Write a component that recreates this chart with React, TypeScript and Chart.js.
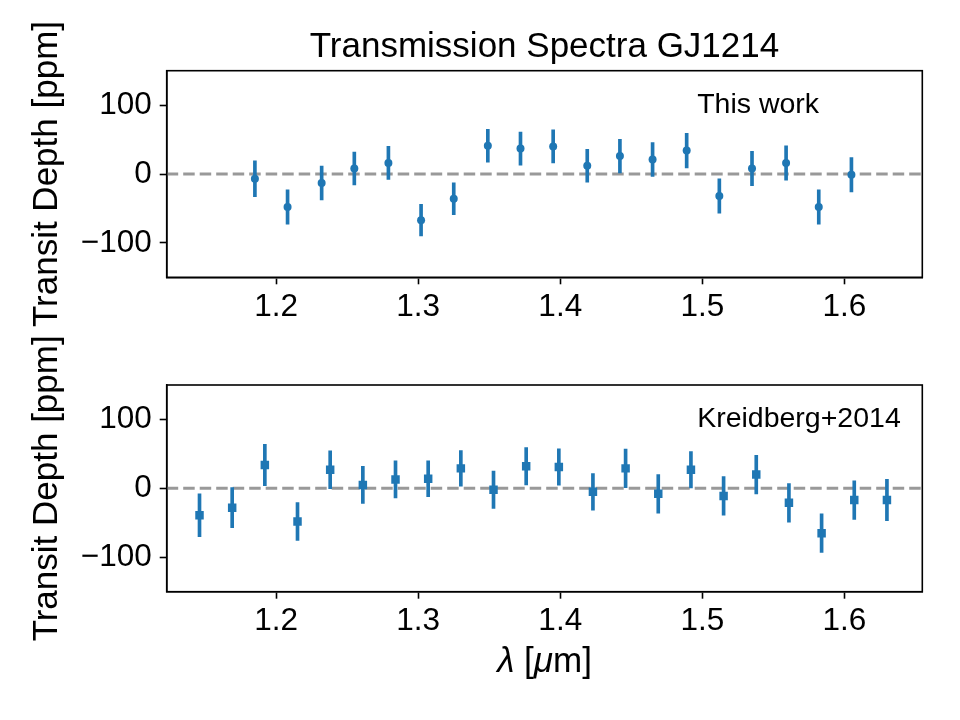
import React, { useEffect, useRef } from 'react';
import { Chart, registerables } from 'chart.js';

Chart.register(...registerables);

// ---- data ----------------------------------------------------------------
const WL_THIS = [1.185, 1.208, 1.232, 1.255, 1.279, 1.302, 1.325, 1.349, 1.372, 1.395,
  1.419, 1.442, 1.465, 1.489, 1.512, 1.535, 1.559, 1.582, 1.605];
const DEPTH_THIS = [-7, -48, -13, 8, 16, -67, -36, 41, 37, 40,
  12, 26, 21, 34, -32, 8, 16, -48, -1];
const ERR_THIS = [26, 25, 24.5, 24, 24, 23, 23, 24, 24, 24,
  24, 24.5, 24.5, 25, 25, 25, 25, 25, 25];

const WL_K14 = [1.146, 1.169, 1.192, 1.215, 1.238, 1.261, 1.284, 1.307, 1.330, 1.353, 1.376,
  1.399, 1.423, 1.446, 1.469, 1.492, 1.515, 1.538, 1.561, 1.584, 1.607, 1.630];
const DEPTH_K14 = [-39, -28, 34, -48, 27, 5, 13, 14, 29, -2, 32,
  31, -5, 29, -8, 27, -11, 20, -21, -65, -17, -17];
const ERR_K14 = [31, 29, 30, 27.5, 27.5, 27, 27, 26, 26, 27, 27,
  26.5, 26.5, 28, 28, 26.5, 28, 28, 28, 28, 28, 30];

const X_MIN = 1.1229;
const X_MAX = 1.6549;
const Y_MIN = -150;
const Y_MAX = 150;
const X_TICKS = [1.2, 1.3, 1.4, 1.5, 1.6];
const Y_TICKS = [-100, 0, 100];

const TITLE = 'Transmission Spectra GJ1214';
const Y_LABEL = 'Transit Depth [ppm]';
const LABEL_THIS = 'This work';
const LABEL_K14 = 'Kreidberg+2014';

// ---- styling ---------------------------------------------------------------
const BLUE = '#1f77b4';
const FONT = "'Liberation Sans', Arial, Helvetica, sans-serif";
const W = 960;
const H = 720;

type PanelText = {
  title?: string;
  note: string;
  ylabel: string;
  xlabel?: boolean;
};

// Frame, title, axis labels and the in-panel note
const panelText = {
  id: 'panelText',
  afterDraw(chart: any, _args: any, opts: PanelText) {
    const { ctx, chartArea: a } = chart;
    ctx.save();
    ctx.strokeStyle = '#000';
    ctx.lineWidth = 1.6;
    ctx.strokeRect(a.left, a.top, a.right - a.left, a.bottom - a.top);

    ctx.fillStyle = '#000';
    const cx = (a.left + a.right) / 2;
    const cy = (a.top + a.bottom) / 2;

    if (opts.title) {
      ctx.font = `35px ${FONT}`;
      ctx.textAlign = 'center';
      ctx.textBaseline = 'alphabetic';
      ctx.fillText(opts.title, cx, a.top - 14);
    }

    // note inside the panel
    ctx.font = `28.5px ${FONT}`;
    ctx.textAlign = 'left';
    ctx.textBaseline = 'alphabetic';
    ctx.fillText(opts.note, a.left + 0.702 * (a.right - a.left), a.top + 42);

    // y label, rotated
    ctx.save();
    ctx.translate(57, cy);
    ctx.rotate(-Math.PI / 2);
    ctx.font = `35px ${FONT}`;
    ctx.textAlign = 'center';
    ctx.fillText(opts.ylabel, 0, 0);
    ctx.restore();

    // x label: italic lambda and mu
    if (opts.xlabel) {
      const runs: [string, boolean][] = [['λ', true], [' [', false], ['μ', true], ['m]', false]];
      let total = 0;
      const widths = runs.map(([t, it]) => {
        ctx.font = `${it ? 'italic ' : ''}35px ${FONT}`;
        const w = ctx.measureText(t).width;
        total += w;
        return w;
      });
      let x = cx - total / 2;
      ctx.textAlign = 'left';
      runs.forEach(([t, it], i) => {
        ctx.font = `${it ? 'italic ' : ''}35px ${FONT}`;
        ctx.fillText(t, x, a.bottom + 80);
        x += widths[i];
      });
    }
    ctx.restore();
  },
};

function buildConfig(
  wl: number[], depth: number[], err: number[],
  style: 'circle' | 'rect', radius: number,
  area: { top: number; bottom: number },
  text: PanelText,
): any {
  const minus = (v: number) => (v < 0 ? '\u2212' + Math.abs(v) : String(v));
  const tickGrid = {
    display: true,
    offset: false,
    drawOnChartArea: false,
    drawTicks: true,
    tickLength: 7,
    tickWidth: 1.6,
    tickColor: '#000',
  };
  return {
    type: 'scatter',
    data: {
      datasets: [
        {
          type: 'line',
          data: [{ x: X_MIN, y: 0 }, { x: X_MAX, y: 0 }],
          borderColor: '#999999',
          borderWidth: 3,
          borderDash: [11.5, 5],
          pointRadius: 0,
          order: 3,
        },
        {
          type: 'bar',
          data: wl.map((x, i) => ({ x, y: [depth[i] - err[i], depth[i] + err[i]] })),
          backgroundColor: BLUE,
          borderWidth: 0,
          barThickness: 3,
          grouped: false,
          order: 2,
        },
        {
          type: 'scatter',
          data: wl.map((x, i) => ({ x, y: depth[i] })),
          pointStyle: style,
          pointRadius: radius,
          backgroundColor: BLUE,
          borderWidth: 0,
          order: 1,
        },
      ],
    },
    options: {
      responsive: false,
      animation: false,
      devicePixelRatio: 1,
      layout: { padding: { left: 0, right: W - 922.3, top: area.top, bottom: 0 } },
      plugins: {
        legend: { display: false },
        tooltip: { enabled: false },
        panelText: text,
      },
      scales: {
        x: {
          type: 'linear',
          min: X_MIN,
          max: X_MAX,
          offset: false,
          afterBuildTicks: (s: any) => { s.ticks = X_TICKS.map((v) => ({ value: v })); },
          afterFit: (s: any) => { s.height = H - area.bottom; },
          ticks: {
            color: '#000',
            font: { family: FONT, size: 31.5 },
            padding: 4,
            maxRotation: 0,
            autoSkip: false,
            callback: (v: number) => v.toFixed(1),
          },
          grid: tickGrid,
          border: { display: true, color: '#000', width: 1.6 },
        },
        y: {
          type: 'linear',
          min: Y_MIN,
          max: Y_MAX,
          afterBuildTicks: (s: any) => { s.ticks = Y_TICKS.map((v) => ({ value: v })); },
          afterFit: (s: any) => { s.width = 166.7; },
          ticks: {
            color: '#000',
            font: { family: FONT, size: 31.5 },
            padding: 8,
            callback: (v: number) => minus(v),
          },
          grid: tickGrid,
          border: { display: true, color: '#000', width: 1.6 },
        },
      },
    },
    plugins: [panelText],
  };
}

export default function App() {
  const topRef = useRef<HTMLCanvasElement>(null);
  const botRef = useRef<HTMLCanvasElement>(null);

  useEffect(() => {
    const top = new Chart(
      topRef.current as HTMLCanvasElement,
      buildConfig(WL_THIS, DEPTH_THIS, ERR_THIS, 'circle', 4,
        { top: 70.7, bottom: 277.3 },
        { title: TITLE, note: LABEL_THIS, ylabel: Y_LABEL }),
    );
    const bottom = new Chart(
      botRef.current as HTMLCanvasElement,
      buildConfig(WL_K14, DEPTH_K14, ERR_K14, 'rect', 6,
        { top: 385, bottom: 591.7 },
        { note: LABEL_K14, ylabel: Y_LABEL, xlabel: true }),
    );
    return () => {
      top.destroy();
      bottom.destroy();
    };
  }, []);

  return (
    <div style={{ position: 'absolute', left: 0, top: 0, width: W, height: H, background: '#fff' }}>
      <canvas ref={topRef} width={W} height={H} style={{ position: 'absolute', left: 0, top: 0 }} />
      <canvas ref={botRef} width={W} height={H} style={{ position: 'absolute', left: 0, top: 0 }} />
    </div>
  );
}
